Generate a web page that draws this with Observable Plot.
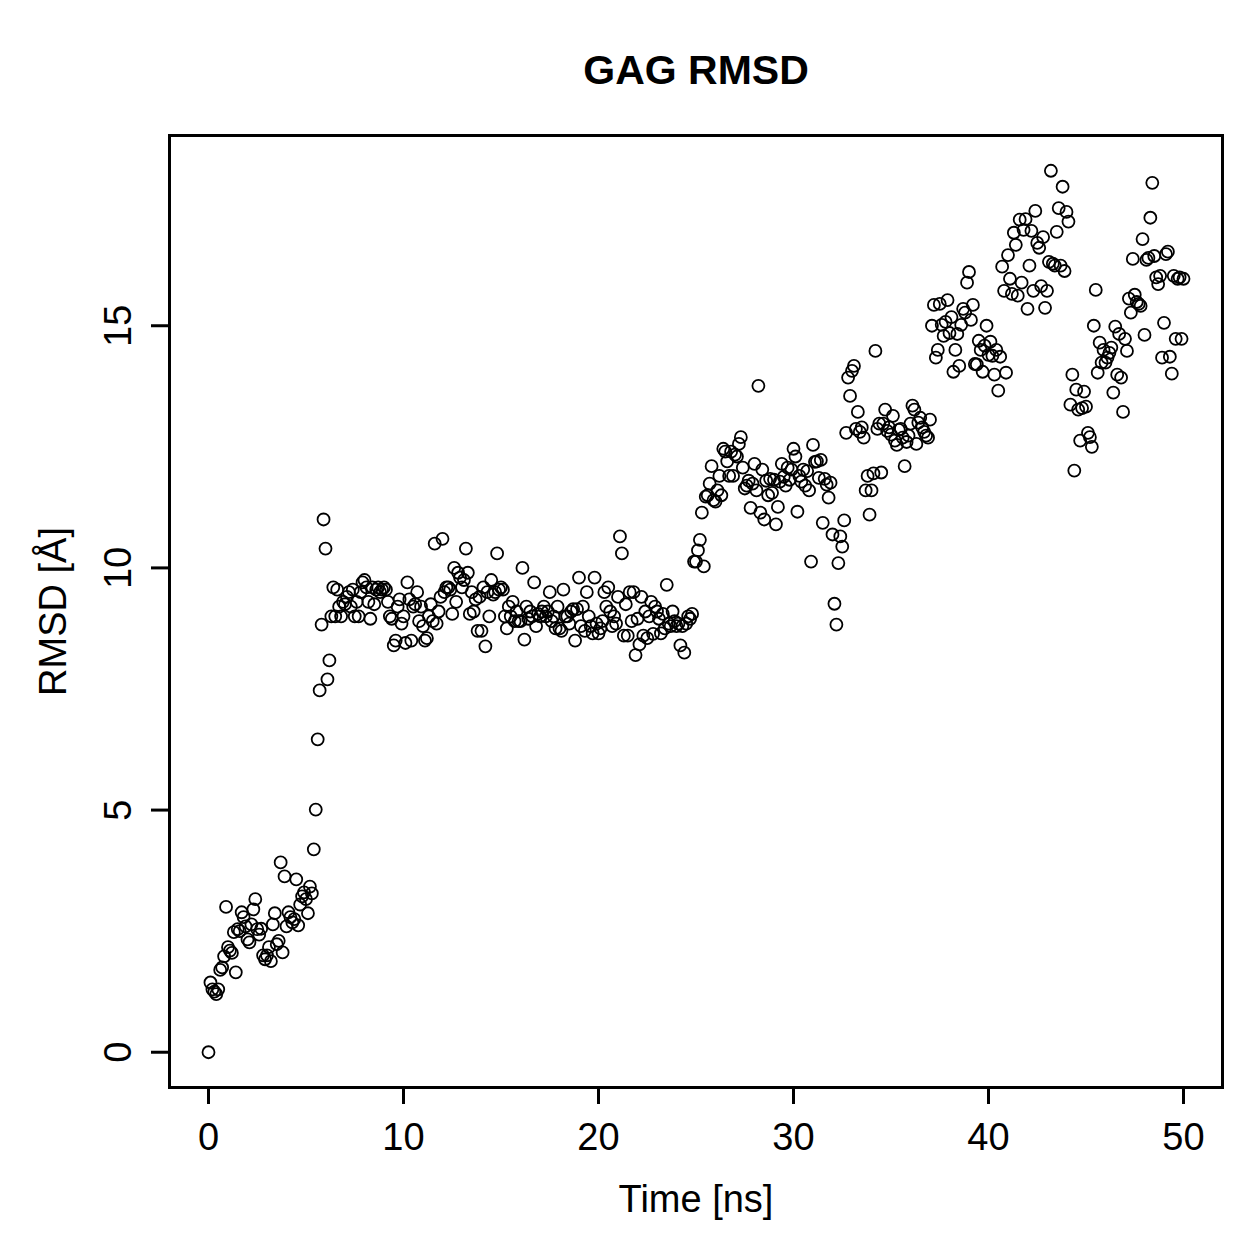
<!DOCTYPE html>
<html>
<head>
<meta charset="utf-8">
<script src="https://cdn.jsdelivr.net/npm/d3@7"></script>
<script src="https://cdn.jsdelivr.net/npm/@observablehq/plot@0.6"></script>
<style>
  html, body { margin: 0; padding: 0; background: #fff; }
  #chart svg { display: block; font-family: "Liberation Sans", Arial, Helvetica, sans-serif; }
</style>
</head>
<body>
<div id="chart"></div>
<script>
// ---- data (RMSD in Å, sampled every 0.1 ns) ----
const title = "GAG RMSD";
const xLabel = "Time [ns]";
const yLabel = "RMSD [Å]";
const xTicks = [0, 10, 20, 30, 40, 50];
const yTicks = [0, 5, 10, 15];
const step = 0.1;

// segment 1: 0.0 – 6.2 ns
const startA = 0.0;
const rmsdA = [0, 1.44, 1.3, 1.25, 1.2, 1.3, 1.7, 1.75, 1.98, 3.0,
  2.17, 2.1, 2.05, 2.48, 1.65, 2.54, 2.5, 2.89, 2.79, 2.6,
  2.33, 2.27, 2.64, 2.95, 3.16, 2.54, 2.43, 2.55, 2.0, 1.92,
  2.0, 2.17, 1.88, 2.64, 2.87, 2.23, 2.3, 3.92, 2.06, 3.63,
  2.6, 2.89, 2.79, 2.68, 2.75, 3.57, 2.62, 3.05, 3.22, 3.3,
  3.16, 2.87, 3.42, 3.28, 4.19, 5.01, 6.46, 7.47, 8.83, 11.0,
  10.4, 7.7, 8.09];

// segment 2: 6.3 – 24.8 ns (plateau)
const startB = 6.3;
const rmsdB = [9.0, 9.6, 9.0, 9.55, 9.2, 9.0, 9.3,
  9.25, 9.4, 9.5, 9.2, 9.55, 9.0, 9.3, 9.0, 9.5, 9.7,
  9.75, 9.6, 9.3, 8.95, 9.6, 9.25, 9.55, 9.6, 9.5, 9.55,
  9.6, 9.55, 9.3, 9.0, 8.95, 8.4, 8.5, 9.2, 9.35, 8.85,
  9.0, 8.45, 9.7, 9.35, 8.5, 9.2, 9.25, 9.5, 8.9, 9.2,
  8.8, 8.5, 8.55, 9.0, 9.25, 8.9, 10.5, 8.85, 9.1, 9.4,
  10.6, 9.5, 9.6, 9.6, 9.55, 9.05, 10.0, 9.3, 9.9, 9.8,
  9.6, 9.75, 10.4, 9.9, 9.05, 9.5, 9.1, 9.35, 8.7, 9.4,
  8.7, 9.6, 8.38, 9.5, 9.0, 9.75, 9.45, 9.5, 10.3, 9.55,
  9.6, 9.55, 9.0, 8.75, 9.2, 9.0, 9.3, 8.9, 9.1, 8.9,
  8.9, 10.0, 8.52, 9.2, 8.95, 9.1, 9.0, 9.7, 8.8, 9.05,
  9.0, 9.1, 9.2, 9.0, 9.1, 9.5, 8.9, 9.0, 8.75, 9.2,
  8.75, 8.7, 9.55, 9.0, 9.0, 8.85, 9.1, 9.15, 8.5, 9.15,
  9.8, 8.8, 9.2, 8.7, 9.5, 9.0, 8.8, 8.65, 9.8, 8.85,
  8.65, 8.75, 8.9, 9.5, 9.2, 9.6, 9.1, 8.8, 9.0, 8.85,
  9.4, 10.65, 10.3, 8.6, 9.25, 8.6, 9.5, 8.9, 9.5, 8.2,
  8.95, 8.42, 9.4, 8.6, 9.1, 8.55, 9.0, 9.3, 8.64, 9.2,
  9.1, 8.95, 8.65, 9.05, 8.75, 9.65, 8.85, 8.8, 9.1, 8.9,
  8.8, 8.85, 8.4, 8.8, 8.25, 8.85, 9.0, 8.95, 9.05];

// segment 3: 24.9 – 50.0 ns
const startC = 24.9;
const rmsdC = [10.13,
  10.13, 10.36, 10.58, 11.14, 10.03, 11.47, 11.5, 11.74, 12.1, 11.4,
  11.37, 11.6, 11.9, 11.5, 12.46, 12.4, 12.2, 11.9, 12.4, 11.9,
  12.34, 12.3, 12.56, 12.7, 12.07, 11.64, 11.7, 11.8, 11.24, 11.74,
  12.15, 11.6, 13.76, 11.14, 12.03, 11.0, 11.8, 11.5, 11.84, 11.55,
  11.82, 10.9, 11.26, 11.78, 12.15, 11.88, 11.7, 12.07, 11.82, 12.03,
  12.46, 12.3, 11.16, 11.9, 11.78, 12.03, 11.7, 12.0, 11.6, 10.13,
  12.54, 12.19, 12.2, 11.86, 12.23, 10.93, 11.84, 11.72, 11.45, 11.76,
  10.69, 9.26, 8.83, 10.1, 10.65, 10.44, 10.98, 12.79, 13.93, 13.55,
  14.07, 14.17, 12.87, 13.22, 12.81, 12.9, 12.69, 11.6, 11.9, 11.1,
  11.6, 11.95, 14.48, 12.87, 12.98, 11.97, 12.98, 13.27, 12.83, 12.9,
  12.75, 13.14, 12.63, 12.54, 12.85, 12.87, 12.69, 12.1, 12.6, 12.73,
  12.98, 13.35, 13.27, 12.56, 13.0, 13.1, 12.9, 12.81, 12.73, 12.69,
  13.06, 15.0, 15.43, 14.34, 14.5, 15.45, 15.02, 14.79, 15.08, 15.53,
  14.85, 15.18, 14.05, 14.5, 14.83, 14.17, 15.02, 15.35, 15.27, 15.89,
  16.11, 15.12, 15.43, 14.21, 14.2, 14.69, 14.5, 14.05, 14.59, 15.0,
  14.4, 14.67, 14.38, 13.99, 14.5, 13.66, 14.36, 16.22, 15.72, 14.03,
  16.46, 15.97, 15.66, 16.92, 16.67, 15.62, 17.19, 15.89, 16.98, 17.2,
  15.35, 16.24, 16.96, 15.72, 17.37, 16.71, 16.61, 15.82, 16.83, 15.37,
  15.72, 16.32, 18.2, 16.28, 16.24, 16.94, 17.43, 16.24, 17.87, 16.13,
  17.35, 17.15, 13.37, 13.99, 12.01, 13.68, 13.27, 12.63, 13.3, 13.64,
  13.33, 12.79, 12.7, 12.5, 15.0, 15.74, 14.03, 14.65, 14.24, 14.5,
  14.24, 14.34, 14.44, 14.55, 13.62, 14.98, 13.99, 14.83, 13.93, 13.22,
  14.73, 14.48, 15.56, 15.27, 16.38, 15.64, 15.49, 15.45, 15.41, 16.79,
  14.81, 16.36, 16.4, 17.23, 17.95, 16.44, 16.0, 15.86, 16.03, 14.34,
  15.06, 16.48, 16.53, 14.36, 14.01, 16.03, 14.73, 15.97, 16.0, 14.73,
  15.97];

// ---- build table ----
const segments = [[startA, rmsdA], [startB, rmsdB], [startC, rmsdC]];
const data = segments.flatMap(([s, arr]) =>
  arr.map((v, i) => ({time: +(s + i * step).toFixed(2), rmsd: v})));

// R-style 4% axis padding
function pad([a, b]) { const d = (b - a) * 0.04; return [a - d, b + d]; }
const xDomain = pad(d3.extent(data, d => d.time));
const yDomain = pad(d3.extent(data, d => d.rmsd));

const FS = 38;
const chart = Plot.plot({
  width: 1259,
  height: 1259,
  marginLeft: 169,
  marginRight: 37,
  marginTop: 135,
  marginBottom: 172,
  style: {fontFamily: '"Liberation Sans", Arial, Helvetica, sans-serif', background: "#fff", color: "#000"},
  x: {domain: xDomain},
  y: {domain: yDomain},
  marks: [
    Plot.dot(data, {x: "time", y: "rmsd", r: 6, stroke: "black", strokeWidth: 1.8, fill: "none"}),
    Plot.frame({stroke: "black", strokeWidth: 3}),
    Plot.axisX({ticks: xTicks, tickSize: 17, tickPadding: 19, fontSize: FS, strokeWidth: 3, label: null}),
    Plot.axisY({ticks: yTicks, tickSize: 18, tickFormat: () => "", strokeWidth: 3, label: null}),
    Plot.text(yTicks, {y: d => d, text: d => String(d), frameAnchor: "left", dx: -39, rotate: -90,
      textAnchor: "middle", lineAnchor: "bottom", fontSize: FS, fill: "black"}),
    Plot.text([xLabel], {text: d => d, frameAnchor: "bottom", dy: 124, lineAnchor: "bottom", fontSize: FS, fill: "black"}),
    Plot.text([yLabel], {text: d => d, frameAnchor: "left", dx: -104, rotate: -90, textAnchor: "middle",
      lineAnchor: "bottom", fontSize: FS, fill: "black"}),
    Plot.text([title], {text: d => d, frameAnchor: "top", dy: -52, lineAnchor: "bottom", fontSize: 41,
      fontWeight: "bold", fill: "black"})
  ]
});
document.getElementById("chart").append(chart);
</script>
</body>
</html>
